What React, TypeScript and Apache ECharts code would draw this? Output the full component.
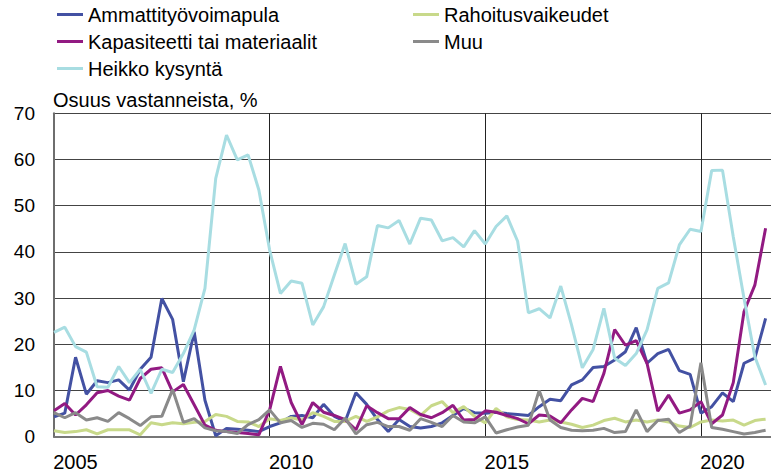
import React, { useEffect, useRef } from "react";
import * as echarts from "echarts";

// Quarterly observations, 2005Q1 ... 2021Q3 (67 quarters)
const YEAR_LABELS: Record<number, string> = { 0: "2005", 20: "2010", 40: "2015", 60: "2020" };

const ammattityovoimapula = [
  4.3, 5.1, 17.2, 9.2, 12.1, 11.7, 12.3, 10.1, 14.6, 17.2, 29.9, 25.4, 11.9, 22.7, 7.9, 0.2, 1.8, 1.6, 1.4, 1.1, 2.2, 3.0,
  4.4, 4.6, 4.1, 7.0, 4.4, 3.3, 9.5, 7.0, 3.7, 1.1, 3.7, 2.2, 1.9, 2.2, 3.0, 4.6, 6.1, 5.2, 5.1, 5.3, 5.0, 4.8, 4.6,
  6.5, 8.1, 7.8, 11.2, 12.3, 15.0, 15.2, 16.6, 18.4, 23.6, 15.9, 18.0, 18.9, 14.3, 13.5, 5.1, 6.5, 9.5, 7.6, 15.9, 17.0, 25.6,
];

const rahoitusvaikeudet = [
  1.3, 0.9, 1.1, 1.5, 0.6, 1.5, 1.5, 1.5, 0.4, 3.0, 2.6, 3.0, 2.8, 3.1, 3.3, 4.8, 4.4, 3.3, 3.2, 2.2, 3.9, 3.5,
  4.1, 3.6, 5.2, 4.4, 3.3, 3.3, 4.4, 3.3, 4.3, 5.6, 6.3, 5.9, 4.6, 6.7, 7.6, 5.2, 6.5, 4.4, 3.0, 6.1, 4.3, 3.7,
  3.6, 3.2, 3.6, 3.2, 2.7, 2.0, 2.5, 3.5, 4.0, 3.2, 3.6, 3.2, 3.6, 3.2, 2.3, 2.0, 3.2, 3.6, 3.4, 3.6, 2.5, 3.5, 3.8,
];

const kapasiteetti = [
  5.6, 7.2, 4.7, 6.9, 9.5, 10.0, 8.8, 7.9, 12.6, 14.6, 14.9, 9.7, 11.3, 6.9, 2.5, 1.4, 1.1, 0.9, 0.7, 0.4, 5.8, 15.2,
  7.4, 2.6, 7.4, 5.3, 4.6, 3.7, 1.5, 6.7, 5.2, 3.9, 3.9, 6.3, 4.8, 4.1, 5.2, 6.8, 3.6, 3.7, 5.6, 5.3, 4.6, 3.9,
  2.8, 4.7, 4.5, 3.0, 5.8, 8.3, 7.6, 13.7, 23.2, 19.8, 20.8, 15.9, 5.5, 9.0, 5.1, 5.8, 7.6, 2.8, 4.7, 11.7, 27.1, 32.8, 45.1,
];

const muu = [
  5.2, 4.1, 5.2, 3.6, 4.1, 3.3, 5.2, 3.9, 2.4, 4.3, 4.4, 10.2, 3.1, 3.9, 1.9, 1.3, 1.1, 0.7, 2.6, 3.7, 5.8, 3.0,
  3.5, 2.0, 2.9, 2.7, 1.5, 4.0, 0.6, 2.6, 3.1, 2.2, 2.2, 1.4, 3.9, 3.1, 2.2, 4.6, 3.2, 3.0, 4.3, 0.8, 1.5, 2.1,
  2.5, 10.0, 3.6, 2.0, 1.4, 1.3, 1.4, 1.8, 0.9, 1.1, 5.8, 1.1, 3.5, 3.8, 0.9, 2.3, 16.0, 2.0, 1.6, 1.1, 0.6, 0.9, 1.4,
];

const heikkoKysynta = [
  22.6, 23.7, 19.5, 18.3, 10.8, 10.7, 15.2, 11.7, 14.6, 9.4, 14.6, 13.9, 18.0, 23.1, 32.1, 55.9, 65.3, 59.9, 61.0, 53.4, 40.4, 31.0,
  33.7, 33.2, 24.2, 28.1, 35.0, 41.8, 33.0, 34.6, 45.7, 45.2, 46.8, 41.7, 47.3, 46.9, 42.4, 43.1, 41.1, 44.6,
  41.7, 45.5, 47.8, 42.3, 26.8, 27.7, 25.7, 32.6, 24.2, 14.9, 18.9, 27.8, 17.0, 15.4, 18.0, 23.1, 32.1, 33.3, 41.5, 44.9, 44.4, 57.6, 57.7, 43.3, 29.9, 17.3, 11.2,
];

const FONT = "'Liberation Sans', Arial, sans-serif";

const SERIES = [
  { name: "Ammattityövoimapula", data: ammattityovoimapula, color: "#4351A3" },
  { name: "Rahoitusvaikeudet", data: rahoitusvaikeudet, color: "#C8D98A" },
  { name: "Kapasiteetti tai materiaalit", data: kapasiteetti, color: "#921A82" },
  { name: "Muu", data: muu, color: "#8A8A8A" },
  { name: "Heikko kysyntä", data: heikkoKysynta, color: "#A8DDE2" },
];

export default function App() {
  const ref = useRef<HTMLDivElement>(null);

  useEffect(() => {
    if (!ref.current) return;
    const chart = echarts.init(ref.current, undefined, { renderer: "svg" });
    const legendCommon = {
      orient: "vertical" as const,
      top: 1,
      padding: 0,
      itemGap: 0,
      itemWidth: 26,
      itemHeight: 3,
      icon: "rect",
      textStyle: { fontFamily: FONT, fontSize: 20, lineHeight: 27, color: "#000" },
    };
    chart.setOption({
      animation: false,
      backgroundColor: "#fff",
      title: {
        text: "Osuus vastanneista, %",
        left: 53,
        top: 90,
        padding: 0,
        textStyle: { fontFamily: FONT, fontSize: 20, fontWeight: "normal", color: "#000", lineHeight: 20 },
      },
      legend: [
        { ...legendCommon, left: 57, data: ["Ammattityövoimapula", "Kapasiteetti tai materiaalit", "Heikko kysyntä"] },
        { ...legendCommon, left: 413, data: ["Rahoitusvaikeudet", "Muu"] },
      ],
      grid: { left: 54, right: 0, top: 113.3, bottom: 36.3, containLabel: false, outerBoundsMode: "none" },
      xAxis: [
        {
          type: "value",
          min: 0,
          max: 66.5,
          interval: 20,
          axisLine: { show: true, onZero: false, lineStyle: { color: "#333", width: 1 } },
          axisTick: { show: false },
          axisLabel: {
            fontFamily: FONT,
            fontSize: 20,
            lineHeight: 20,
            color: "#000",
            margin: 15,
            padding: [0, 0, 0, 43],
            showMaxLabel: false,
            hideOverlap: false,
            formatter: (v: number) => YEAR_LABELS[v] ?? "",
          },
          splitLine: { show: true, lineStyle: { color: "#222", width: 1 } },
        },
        {
          type: "value",
          position: "top",
          min: 0,
          max: 66.5,
          axisLine: { show: true, lineStyle: { color: "#777", width: 2 } },
          axisTick: { show: false },
          axisLabel: { show: false },
          splitLine: { show: false },
        },
      ],
      yAxis: {
        type: "value",
        min: 0,
        max: 70,
        interval: 10,
        axisLine: { show: true, lineStyle: { color: "#6e6e6e", width: 2 } },
        axisTick: { show: false },
        axisLabel: { fontFamily: FONT, fontSize: 19, color: "#000", margin: 19 },
        splitLine: { show: true, lineStyle: { color: "#444", width: 1 } },
      },
      series: SERIES.map((s) => ({
        name: s.name,
        type: "line",
        xAxisIndex: 0,
        symbol: "none",
        color: s.color,
        lineStyle: { color: s.color, width: 3 },
        data: s.data.map((v, i) => [i, v]),
      })),
    });
    return () => chart.dispose();
  }, []);

  return (
    <div
      ref={ref}
      style={{ position: "fixed", left: 0, top: 0, width: 771, height: 473, background: "#fff" }}
    />
  );
}
